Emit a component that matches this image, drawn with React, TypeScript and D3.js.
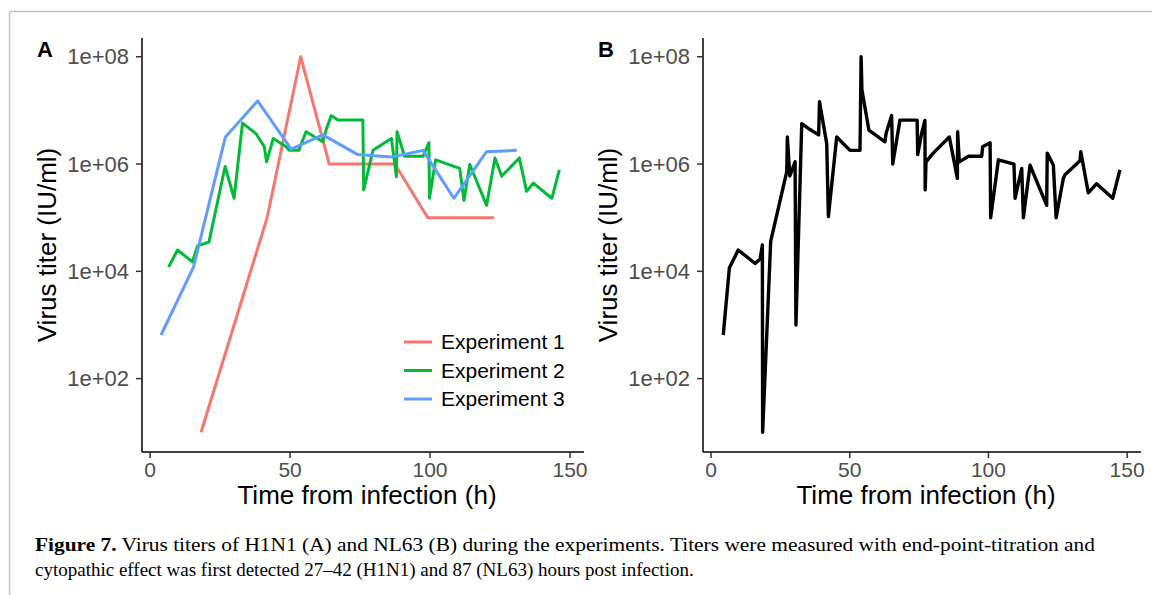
import React from 'react';
import * as d3 from 'd3';

// Panel A: H1N1, three experiments (hours post infection, titer IU/ml)
const exp1Hours = [18.2, 41.8, 53.8, 64, 87.4, 99.2, 122.8];
const exp1Titers = [10, 1e5, 1e8, 1e6, 1e6, 1e5, 1e5];

const exp2Hours = [6.6, 9.8, 15.1, 17, 21, 26.8, 30, 33, 37.8, 40.8, 41.6, 44, 48.6, 49.7, 53.1, 55.7, 61.7, 62.9, 64.7, 67.1, 76, 76.3, 79.6, 86.2, 88, 88.2, 90.9, 97.5, 99.6, 99.8, 102, 110.6, 112.1, 114.2, 120.2, 123.2, 125.6, 131.9, 134.5, 136.9, 143.5, 146.2];
const exp2Titers = [1.2e4, 2.5e4, 1.5e4, 3e4, 3.5e4, 9e5, 2.3e5, 5.8e6, 3.7e6, 2.1e6, 1.1e6, 3e6, 2.1e6, 1.8e6, 1.8e6, 4e6, 2.6e6, 4.4e6, 8e6, 6.6e6, 6.6e6, 3.3e5, 1.8e6, 3e6, 5.8e5, 4e6, 1.4e6, 1.4e6, 2.5e6, 2.3e5, 1.2e6, 8.3e5, 2.1e5, 9.8e5, 1.7e5, 1.3e6, 5.9e5, 1.3e6, 3.1e5, 4.4e5, 2.3e5, 7.8e5];

const exp3Hours = [3.9, 15.5, 26.9, 38.4, 50.4, 61.7, 74.2, 86.2, 97.5, 108.5, 120.2, 131];
const exp3Titers = [650, 1.2e4, 3.2e6, 1.5e7, 1.9e6, 3.5e6, 1.5e6, 1.35e6, 1.8e6, 2.3e5, 1.7e6, 1.8e6];

// Panel B: NL63
const nl63Hours = [4.4, 6.6, 9.8, 15.9, 17.7, 18.5, 18.6, 21.5, 27.3, 27.5, 28.4, 30.3, 30.6, 32.7, 35.7, 38.8, 39.1, 41.7, 42.3, 45.3, 50.1, 53.7, 54.1, 54.4, 56.9, 62.7, 63.1, 65.1, 65.5, 68.1, 74.3, 74.5, 75.9, 77.1, 77.2, 77.5, 80.1, 85.9, 88.8, 88.9, 89.5, 92.8, 97.6, 97.9, 100.6, 100.8, 103.6, 109.2, 109.6, 112, 112.6, 115, 121, 121.2, 123.4, 124.4, 127, 127.6, 133, 133.3, 136, 139, 144.8, 147.4];
const nl63Titers = [650, 1.15e4, 2.5e4, 1.4e4, 1.7e4, 3.1e4, 10, 3.6e4, 7.2e5, 3.2e6, 6e5, 1.1e6, 1e3, 5.7e6, 4.4e6, 3.5e6, 1.45e7, 2.4e6, 1.05e5, 3.2e6, 1.8e6, 1.8e6, 1e8, 2.4e7, 4.3e6, 2.6e6, 3.7e6, 8e6, 1e6, 6.6e6, 6.6e6, 1.5e6, 3.7e6, 6.5e6, 3.3e5, 1.1e6, 1.6e6, 3.2e6, 5.4e5, 4e6, 1.1e6, 1.4e6, 1.4e6, 2.1e6, 2.5e6, 1e5, 1.2e6, 1e6, 2.3e5, 8.3e5, 1e5, 9.5e5, 1.7e5, 1.6e6, 9.5e5, 1e5, 5.4e5, 6.3e5, 1.15e6, 1.7e6, 2.9e5, 4.3e5, 2.3e5, 7.8e5];

const xTicks = [0, 50, 100, 150];
const yTicks = [1e2, 1e4, 1e6, 1e8];
const legendLabels = ['Experiment 1', 'Experiment 2', 'Experiment 3'];
const seriesColors = ['#F8766D', '#00BA38', '#619CFF'];

const SANS = '"Liberation Sans", Arial, sans-serif';
const SERIF = '"Liberation Serif", "Times New Roman", serif';

type Series = { hours: number[]; titers: number[]; color: string; width: number };

const fmtTick = (v: number) => `1e+${String(Math.round(Math.log10(v))).padStart(2, '0')}`;

const y = d3.scaleLog().domain([10 ** 0.65, 10 ** 8.35]).range([451, 38]);

const Panel = ({ left, right, letter, series, legend }: { left: number; right: number; letter: string; series: Series[]; legend?: boolean }) => {
  const x = d3.scaleLinear().domain([-2.9, 155]).range([left, right]);
  const bottom = 452;
  const line = d3.line<[number, number]>().x(d => x(d[0])).y(d => y(d[1]));
  const mid = (left + right) / 2;
  return (
    <g>
      <text x={left - 105} y={57} fontFamily={SANS} fontWeight="bold" fontSize={22}>{letter}</text>
      {series.map((s, i) => (
        <path key={i} d={line(s.hours.map((h, j) => [h, s.titers[j]]) as [number, number][]) || ''}
          fill="none" stroke={s.color} strokeWidth={s.width} strokeLinejoin="round" strokeLinecap="butt" />
      ))}
      {/* axes */}
      <line x1={left} x2={left} y1={38} y2={bottom} stroke="#000" strokeWidth={1.5} />
      <line x1={left} x2={right} y1={bottom} y2={bottom} stroke="#000" strokeWidth={1.5} />
      {yTicks.map(t => (
        <g key={t}>
          <line x1={left - 6} x2={left} y1={y(t)} y2={y(t)} stroke="#333" strokeWidth={1.5} />
          <text x={left - 13} y={y(t)} dy="0.35em" textAnchor="end" fontFamily={SANS} fontSize={22} fill="#4D4D4D">{fmtTick(t)}</text>
        </g>
      ))}
      {xTicks.map(t => (
        <g key={t}>
          <line x1={x(t)} x2={x(t)} y1={bottom} y2={bottom + 6} stroke="#333" strokeWidth={1.5} />
          <text x={x(t)} y={bottom + 10} dy="0.72em" textAnchor="middle" fontFamily={SANS} fontSize={21} fill="#4D4D4D">{t}</text>
        </g>
      ))}
      <text x={mid + 4} y={504} textAnchor="middle" fontFamily={SANS} fontSize={26}>Time from infection (h)</text>
      <text transform={`translate(${left - 86},${(38 + bottom) / 2}) rotate(-90)`} textAnchor="middle" fontFamily={SANS} fontSize={26}>Virus titer (IU/ml)</text>
      {legend && legendLabels.map((lab, i) => (
        <g key={lab}>
          <line x1={404} x2={432} y1={342 + i * 28.5} y2={342 + i * 28.5} stroke={seriesColors[i]} strokeWidth={3} />
          <text x={441} y={342 + i * 28.5} dy="0.35em" fontFamily={SANS} fontSize={21} fill="#000">{lab}</text>
        </g>
      ))}
    </g>
  );
};

const App: React.FC = () => {
  const seriesA: Series[] = [
    { hours: exp1Hours, titers: exp1Titers, color: seriesColors[0], width: 3 },
    { hours: exp2Hours, titers: exp2Titers, color: seriesColors[1], width: 3 },
    { hours: exp3Hours, titers: exp3Titers, color: seriesColors[2], width: 3 },
  ];
  const seriesB: Series[] = [{ hours: nl63Hours, titers: nl63Titers, color: '#000', width: 3.4 }];
  return (
    <div style={{ position: 'absolute', left: 0, top: 0 }}>
      <svg width={1152} height={595} style={{ display: 'block', background: '#fff' }}>
        <line x1={9.5} x2={1152} y1={11.5} y2={11.5} stroke="#c4c4c4" strokeWidth={1.5} />
        <line x1={9.5} x2={9.5} y1={11.5} y2={595} stroke="#c4c4c4" strokeWidth={1.5} />
        <Panel left={142} right={584} letter="A" series={seriesA} legend />
        <Panel left={703} right={1141} letter="B" series={seriesB} />
        <text x={35} y={551} fontFamily={SERIF} fontSize={19} textLength={1060} lengthAdjust="spacingAndGlyphs">
          <tspan fontWeight="bold">Figure 7.</tspan> Virus titers of H1N1 (A) and NL63 (B) during the experiments. Titers were measured with end-point-titration and
        </text>
        <text x={35} y={576} fontFamily={SERIF} fontSize={19}>
          cytopathic effect was first detected 27–42 (H1N1) and 87 (NL63) hours post infection.
        </text>
      </svg>
    </div>
  );
};

export default App;
